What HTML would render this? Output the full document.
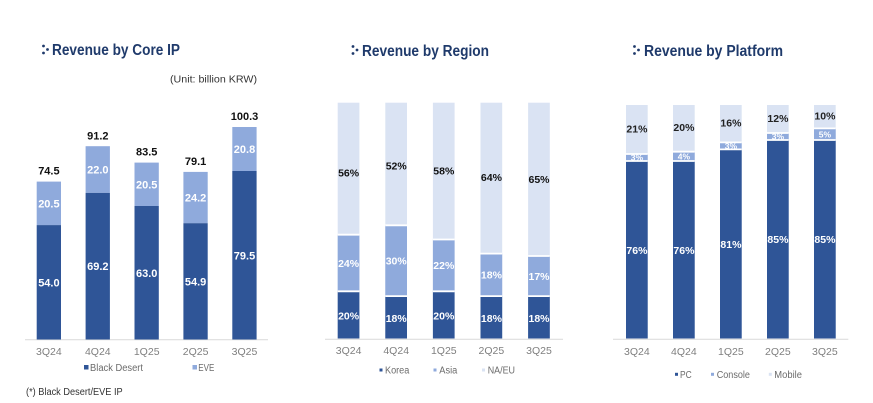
<!DOCTYPE html>
<html><head><meta charset="utf-8"><style>
html,body{margin:0;padding:0;background:#fff;}
svg{display:block;}
text{font-family:"Liberation Sans",Arial,sans-serif;}
.t{font-size:16px;font-weight:bold;fill:#1f3a6b;}
.v{font-size:11px;font-weight:bold;text-anchor:middle;}
.w{fill:#fff;}
.k{fill:#111;}
.x{font-size:10.5px;fill:#7f7f7f;text-anchor:middle;}
.l{font-size:10px;fill:#6b6b6b;}
</style></head><body>
<svg width="873" height="403" viewBox="0 0 873 403" xmlns="http://www.w3.org/2000/svg">
<rect width="873" height="403" fill="#fff"/>
<!-- Titles -->
<g fill="#1f3a6b">
<circle cx="43.5" cy="46" r="1.4"/><circle cx="47.5" cy="49.5" r="1.4"/><circle cx="43.5" cy="53" r="1.4"/>
<circle cx="353" cy="46.5" r="1.4"/><circle cx="357" cy="50" r="1.4"/><circle cx="353" cy="53.5" r="1.4"/>
<circle cx="634.5" cy="46.5" r="1.4"/><circle cx="638.5" cy="50" r="1.4"/><circle cx="634.5" cy="53.5" r="1.4"/>
</g>
<text class="t" x="52" y="55" textLength="128" lengthAdjust="spacingAndGlyphs">Revenue by Core IP</text>
<text class="t" x="362" y="56" textLength="127" lengthAdjust="spacingAndGlyphs">Revenue by Region</text>
<text class="t" x="644" y="56" textLength="139" lengthAdjust="spacingAndGlyphs">Revenue by Platform</text>
<text x="170" y="82.5" font-size="10.5" fill="#333" textLength="87" lengthAdjust="spacingAndGlyphs">(Unit: billion KRW)</text>

<!-- Chart 1 -->
<line x1="25" y1="339.8" x2="268" y2="339.8" stroke="#d9d9d9" stroke-width="1"/>
<g>
<rect x="36.7" y="181.6" width="24.3" height="43.5" fill="#8faadc"/><rect x="36.7" y="225.1" width="24.3" height="114.4" fill="#2f5597"/>
<rect x="85.6" y="146.2" width="24.3" height="46.7" fill="#8faadc"/><rect x="85.6" y="192.9" width="24.3" height="146.6" fill="#2f5597"/>
<rect x="134.5" y="162.6" width="24.3" height="43.4" fill="#8faadc"/><rect x="134.5" y="206.0" width="24.3" height="133.5" fill="#2f5597"/>
<rect x="183.4" y="171.9" width="24.3" height="51.3" fill="#8faadc"/><rect x="183.4" y="223.2" width="24.3" height="116.3" fill="#2f5597"/>
<rect x="232.3" y="127.0" width="24.3" height="44.0" fill="#8faadc"/><rect x="232.3" y="171.0" width="24.3" height="168.5" fill="#2f5597"/>
</g>
<g class="v k">
<text x="48.9" y="174.7">74.5</text><text x="97.8" y="139.3">91.2</text><text x="146.7" y="155.7">83.5</text><text x="195.6" y="165">79.1</text><text x="244.5" y="120.1">100.3</text>
</g>
<g class="v w">
<text x="48.9" y="207.4">20.5</text><text x="97.8" y="173.6">22.0</text><text x="146.7" y="188.3">20.5</text><text x="195.6" y="201.6">24.2</text><text x="244.5" y="153">20.8</text>
<text x="48.9" y="286.3">54.0</text><text x="97.8" y="270.2">69.2</text><text x="146.7" y="276.8">63.0</text><text x="195.6" y="285.4">54.9</text><text x="244.5" y="259.3">79.5</text>
</g>
<g class="x">
<text x="48.9" y="354.8">3Q24</text><text x="97.8" y="354.8">4Q24</text><text x="146.7" y="354.8">1Q25</text><text x="195.6" y="354.8">2Q25</text><text x="244.5" y="354.8">3Q25</text>
</g>
<rect x="84" y="365" width="4.5" height="4.5" fill="#2f5597"/>
<text class="l" x="90" y="371" textLength="53" lengthAdjust="spacingAndGlyphs">Black Desert</text>
<rect x="192.5" y="365" width="4.5" height="4.5" fill="#8faadc"/>
<text class="l" x="198.3" y="371" textLength="16" lengthAdjust="spacingAndGlyphs">EVE</text>
<text x="26" y="395.2" font-size="10" fill="#333" textLength="96.7" lengthAdjust="spacingAndGlyphs">(*) Black Desert/EVE IP</text>

<!-- Chart 2 -->
<line x1="325" y1="339.3" x2="563" y2="339.3" stroke="#d9d9d9" stroke-width="1"/>
<g>
<!-- bar1 -->
<rect x="337.7" y="102.7" width="21.7" height="235.8" fill="#dae3f3"/>
<rect x="337.7" y="234.7" width="21.7" height="56.6" fill="#8faadc"/>
<rect x="337.7" y="291.3" width="21.7" height="47.2" fill="#2f5597"/>
<!-- bar2 -->
<rect x="385.3" y="102.7" width="21.7" height="235.8" fill="#dae3f3"/>
<rect x="385.3" y="225.3" width="21.7" height="70.8" fill="#8faadc"/>
<rect x="385.3" y="296.1" width="21.7" height="42.4" fill="#2f5597"/>
<!-- bar3 -->
<rect x="432.9" y="102.7" width="21.7" height="235.8" fill="#dae3f3"/>
<rect x="432.9" y="239.5" width="21.7" height="51.8" fill="#8faadc"/>
<rect x="432.9" y="291.3" width="21.7" height="47.2" fill="#2f5597"/>
<!-- bar4 -->
<rect x="480.5" y="102.7" width="21.7" height="235.8" fill="#dae3f3"/>
<rect x="480.5" y="253.6" width="21.7" height="42.5" fill="#8faadc"/>
<rect x="480.5" y="296.1" width="21.7" height="42.4" fill="#2f5597"/>
<!-- bar5 -->
<rect x="528.1" y="102.7" width="21.7" height="235.8" fill="#dae3f3"/>
<rect x="528.1" y="256.0" width="21.7" height="40.1" fill="#8faadc"/>
<rect x="528.1" y="296.1" width="21.7" height="42.4" fill="#2f5597"/>
</g>
<g stroke="#fff" stroke-width="1.8">
<line x1="337.7" y1="234.7" x2="359.4" y2="234.7"/><line x1="337.7" y1="291.3" x2="359.4" y2="291.3"/>
<line x1="385.3" y1="225.3" x2="407" y2="225.3"/><line x1="385.3" y1="296.1" x2="407" y2="296.1"/>
<line x1="432.9" y1="239.5" x2="454.6" y2="239.5"/><line x1="432.9" y1="291.3" x2="454.6" y2="291.3"/>
<line x1="480.5" y1="253.6" x2="502.2" y2="253.6"/><line x1="480.5" y1="296.1" x2="502.2" y2="296.1"/>
<line x1="528.1" y1="256.0" x2="549.8" y2="256.0"/><line x1="528.1" y1="296.1" x2="549.8" y2="296.1"/>
</g>
<g class="v k" style="font-size:10.5px">
<text x="348.6" y="176.5">56%</text><text x="396.2" y="169.5">52%</text><text x="443.8" y="174.5">58%</text><text x="491.4" y="181.1">64%</text><text x="539" y="182.8">65%</text>
</g>
<g class="v w" style="font-size:10.5px">
<text x="348.6" y="267.1">24%</text><text x="396.2" y="264.5">30%</text><text x="443.8" y="269.2">22%</text><text x="491.4" y="278.6">18%</text><text x="539" y="279.8">17%</text>
<text x="348.6" y="319.6">20%</text><text x="396.2" y="321.8">18%</text><text x="443.8" y="319.6">20%</text><text x="491.4" y="321.8">18%</text><text x="539" y="321.8">18%</text>
</g>
<g class="x">
<text x="348.6" y="353.8">3Q24</text><text x="396.2" y="353.8">4Q24</text><text x="443.8" y="353.8">1Q25</text><text x="491.4" y="353.8">2Q25</text><text x="539" y="353.8">3Q25</text>
</g>
<rect x="379.5" y="368.5" width="3" height="3" fill="#2f5597"/>
<text class="l" x="385" y="373.5" textLength="24.3" lengthAdjust="spacingAndGlyphs">Korea</text>
<rect x="433.5" y="368.5" width="3" height="3" fill="#8faadc"/>
<text class="l" x="439.3" y="373.5" textLength="18" lengthAdjust="spacingAndGlyphs">Asia</text>
<rect x="482" y="368.5" width="3" height="3" fill="#dae3f3"/>
<text class="l" x="487.7" y="373.5" textLength="27.3" lengthAdjust="spacingAndGlyphs">NA/EU</text>

<!-- Chart 3 -->
<line x1="613" y1="339.3" x2="848.3" y2="339.3" stroke="#d9d9d9" stroke-width="1"/>
<g>
<rect x="626" y="105" width="21.7" height="233.5" fill="#dae3f3"/>
<rect x="626" y="154.0" width="21.7" height="7.0" fill="#8faadc"/>
<rect x="626" y="161.0" width="21.7" height="177.5" fill="#2f5597"/>
<rect x="673" y="105" width="21.7" height="233.5" fill="#dae3f3"/>
<rect x="673" y="151.7" width="21.7" height="9.3" fill="#8faadc"/>
<rect x="673" y="161.0" width="21.7" height="177.5" fill="#2f5597"/>
<rect x="720" y="105" width="21.7" height="233.5" fill="#dae3f3"/>
<rect x="720" y="142.4" width="21.7" height="7.0" fill="#8faadc"/>
<rect x="720" y="149.4" width="21.7" height="189.1" fill="#2f5597"/>
<rect x="767" y="105" width="21.7" height="233.5" fill="#dae3f3"/>
<rect x="767" y="133.0" width="21.7" height="7.0" fill="#8faadc"/>
<rect x="767" y="140.0" width="21.7" height="198.5" fill="#2f5597"/>
<rect x="814" y="105" width="21.7" height="233.5" fill="#dae3f3"/>
<rect x="814" y="128.4" width="21.7" height="11.6" fill="#8faadc"/>
<rect x="814" y="140.0" width="21.7" height="198.5" fill="#2f5597"/>
</g>
<g class="v w" style="font-size:8.5px">
<text x="636.9" y="160.5">3%</text><text x="683.9" y="159.4">4%</text><text x="730.9" y="148.9">3%</text><text x="777.9" y="139.5">3%</text><text x="824.9" y="137.5">5%</text>
</g>
<g stroke="#fff" stroke-width="1.8">
<line x1="626" y1="154.0" x2="647.7" y2="154.0"/><line x1="626" y1="161.0" x2="647.7" y2="161.0"/>
<line x1="673" y1="151.7" x2="694.7" y2="151.7"/><line x1="673" y1="161.0" x2="694.7" y2="161.0"/>
<line x1="720" y1="142.4" x2="741.7" y2="142.4"/><line x1="720" y1="149.4" x2="741.7" y2="149.4"/>
<line x1="767" y1="133.0" x2="788.7" y2="133.0"/><line x1="767" y1="140.0" x2="788.7" y2="140.0"/>
<line x1="814" y1="128.4" x2="835.7" y2="128.4"/><line x1="814" y1="140.0" x2="835.7" y2="140.0"/>
</g>
<g class="v" style="font-size:10.5px;fill:#222">
<text x="636.9" y="132.5">21%</text><text x="683.9" y="131.1">20%</text><text x="730.9" y="126.5">16%</text><text x="777.9" y="121.8">12%</text><text x="824.9" y="119.5">10%</text>
</g>
<g class="v w" style="font-size:10.5px">
<text x="636.9" y="254.1">76%</text><text x="683.9" y="254.1">76%</text><text x="730.9" y="248.1">81%</text><text x="777.9" y="243.1">85%</text><text x="824.9" y="243.1">85%</text>
</g>
<g class="x">
<text x="636.9" y="354.8">3Q24</text><text x="683.9" y="354.8">4Q24</text><text x="730.9" y="354.8">1Q25</text><text x="777.9" y="354.8">2Q25</text><text x="824.9" y="354.8">3Q25</text>
</g>
<rect x="675" y="372.8" width="3" height="3" fill="#2f5597"/>
<text class="l" x="680" y="377.8" textLength="11.7" lengthAdjust="spacingAndGlyphs">PC</text>
<rect x="711" y="372.8" width="3" height="3" fill="#8faadc"/>
<text class="l" x="716.7" y="377.8" textLength="33.3" lengthAdjust="spacingAndGlyphs">Console</text>
<rect x="768.8" y="372.8" width="3" height="3" fill="#dae3f3"/>
<text class="l" x="774.3" y="377.8" textLength="27.7" lengthAdjust="spacingAndGlyphs">Mobile</text>
</svg>
</body></html>
